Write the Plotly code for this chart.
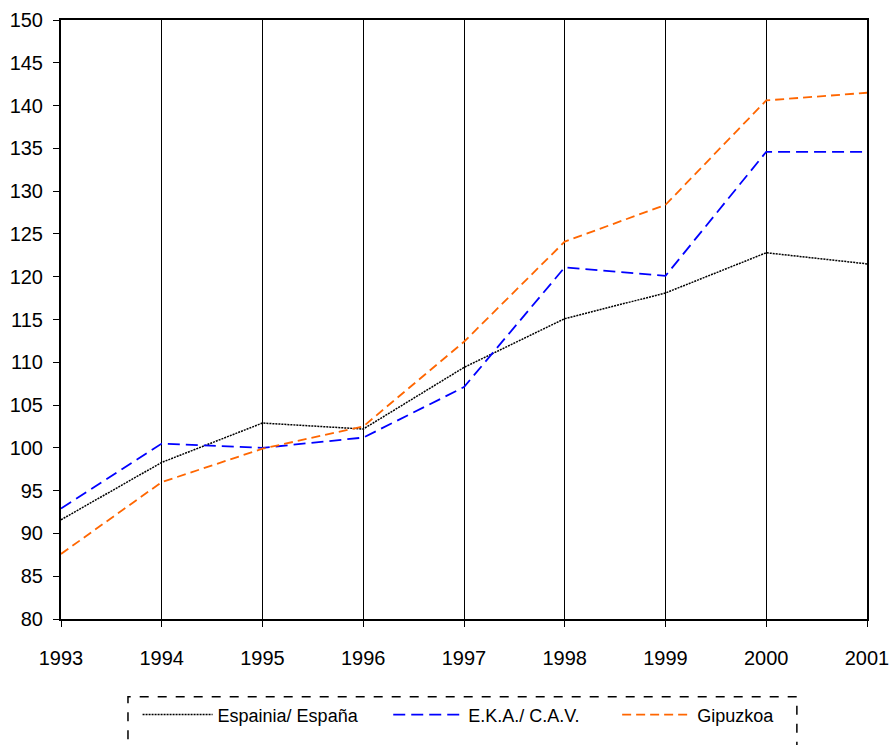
import plotly.graph_objects as go

years = [1993, 1994, 1995, 1996, 1997, 1998, 1999, 2000, 2001]
espania = [91.6, 98.3, 102.9, 102.2, 109.4, 115.1, 118.1, 122.8, 121.5]
eka = [92.9, 100.5, 100.0, 101.2, 107.1, 121.1, 120.1, 134.6, 134.6]
gipuzkoa = [87.6, 96.0, 99.9, 102.5, 112.4, 124.1, 128.4, 140.6, 141.5]

series_names = ["Espainia/ España", "E.K.A./ C.A.V.", "Gipuzkoa"]

fig = go.Figure()
fig.add_trace(go.Scatter(x=years, y=espania, mode="lines", name=series_names[0],
                         legend="legend",
                         line=dict(color="black", width=1.5, dash="2px,1px")))
fig.add_trace(go.Scatter(x=years, y=eka, mode="lines", name=series_names[1],
                         legend="legend2",
                         line=dict(color="#0000FF", width=1.8, dash="12px,6px")))
fig.add_trace(go.Scatter(x=years, y=gipuzkoa, mode="lines", name=series_names[2],
                         legend="legend3",
                         line=dict(color="#FF6600", width=1.8, dash="9px,5px")))

leg_common = dict(orientation="h", xanchor="left", y=-0.160, yanchor="middle",
                  font=dict(size=18), bgcolor="rgba(0,0,0,0)", borderwidth=0,
                  itemwidth=70)

fig.update_layout(
    width=893, height=745,
    margin=dict(l=61, r=26, t=20, b=117),
    paper_bgcolor="white", plot_bgcolor="white",
    font=dict(family="Liberation Sans, Arial, sans-serif", size=20, color="black"),
    xaxis=dict(range=[1993, 2001], tickmode="array", tickvals=years,
               ticktext=[str(y) for y in years], automargin=False,
               showgrid=True, gridcolor="black", gridwidth=1,
               showline=True, linecolor="black", linewidth=2, mirror=True,
               ticks="outside", ticklen=6, tickcolor="black", zeroline=False,
               tickfont=dict(size=20), ticklabelstandoff=14),
    yaxis=dict(range=[80, 150], dtick=5, showgrid=False, automargin=False,
               showline=True, linecolor="black", linewidth=2, mirror=True,
               ticks="outside", ticklen=6, tickcolor="black", zeroline=False,
               tickfont=dict(size=20), ticklabelstandoff=6),
    legend=dict(x=0.095, **leg_common),
    legend2=dict(x=0.406, **leg_common),
    legend3=dict(x=0.690, **leg_common),
    showlegend=True,
)

fig.add_shape(type="rect", xref="paper", yref="paper",
              x0=0.0831, x1=0.913, y0=-0.215, y1=-0.130,
              line=dict(color="black", width=1.5, dash="dash"))

fig.write_html("out.html", config={"displayModeBar": False},
               post_script="document.body.style.margin='0';")
